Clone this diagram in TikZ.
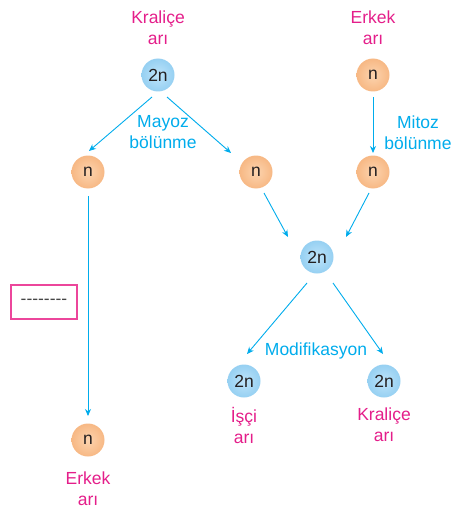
\documentclass[tikz,border=0pt]{standalone}
\usepackage{fontspec}
\setmainfont{Liberation Sans}
\usetikzlibrary{arrows.meta,calc}
\definecolor{arrcol}{RGB}{0,172,236}
\definecolor{labcol}{RGB}{228,30,138}
\definecolor{boxcol}{RGB}{236,70,155}
\definecolor{dashcol}{RGB}{70,70,70}
\definecolor{blueA}{RGB}{190,228,250}
\definecolor{blueB}{RGB}{150,208,242}
\definecolor{orA}{RGB}{252,212,175}
\definecolor{orB}{RGB}{247,184,132}
\definecolor{txt}{RGB}{35,31,32}
\tikzset{
  cellb/.style={circle,minimum size=33pt,inner sep=0pt,inner color=blueA,outer color=blueB,text=txt,font=\fontsize{17.5}{20}\selectfont},
  cello/.style={circle,minimum size=33pt,inner sep=0pt,inner color=orA,outer color=orB,text=txt,font=\fontsize{17.5}{20}\selectfont},
  lab/.style={text=labcol,align=center,font=\fontsize{17.5}{21}\selectfont,inner sep=0pt},
  plab/.style={text=arrcol,align=center,font=\fontsize{17.5}{21}\selectfont,inner sep=0pt},
  arr/.style={draw=arrcol,line width=0.9pt,-{Stealth[length=7pt,width=6pt]}},
  dashbox/.style={draw=boxcol,line width=1.2pt,minimum width=66pt,minimum height=34pt,inner sep=0pt,text=dashcol,font=\fontsize{17.5}{20}\selectfont}
}
\begin{document}
\begin{tikzpicture}[x=1pt,y=-1pt]
\useasboundingbox (0,0) rectangle (458,508);
% nodes
\node[cellb] (Q) at (158,75) {2n};
\node[cello] (M) at (373,75) {n};
\node[cello] (n1) at (88,172) {n};
\node[cello] (n2) at (256,172) {n};
\node[cello] (n3) at (373,172) {n};
\node[cellb] (mid) at (317,257) {2n};
\node[cellb] (bl) at (244,381) {2n};
\node[cellb] (br) at (384,381) {2n};
\node[cello] (nb) at (88,440) {n};
% labels
\node[lab] (lQ) at (158,28) {Kraliçe\\arı};
\node[lab] (lM) at (373,28) {Erkek\\arı};
\node[lab] (lnb) at (88,489) {Erkek\\arı};
\node[lab] (lbl) at (244,425) {İşçi\\arı};
\node[lab] (lbr) at (384,425) {Kraliçe\\arı};
\node[plab] (may) at (163,132) {Mayoz\\bölünme};
\node[plab] (mit) at (418,133) {Mitoz\\bölünme};
\node[plab] (mod) at (316,351) {Modifikasyon};
% box
\node[dashbox] (box) at (44,302) {{-}{-}{-}{-}{-}{-}{-}{-}};
% arrows
\draw[arr] ($(Q)+(-6,22)$) -- ($(n1)+(1,-21)$);
\draw[arr] ($(Q)+(9,22)$) -- ($(n2)+(-25,-19)$);
\draw[arr] ($(M)+(0,22)$) -- ($(n3)+(0,-19)$);
\draw[arr] ($(n1)+(0,24)$) -- ($(nb)+(0,-24)$);
\draw[arr] ($(n2)+(8,21)$) -- ($(mid)+(-29,-20)$);
\draw[arr] ($(n3)+(-4,21)$) -- ($(mid)+(29,-20)$);
\draw[arr] ($(mid)+(-10,26)$) -- ($(bl)+(3,-27)$);
\draw[arr] ($(mid)+(16,26)$) -- ($(br)+(-1,-27)$);
\end{tikzpicture}
\end{document}
